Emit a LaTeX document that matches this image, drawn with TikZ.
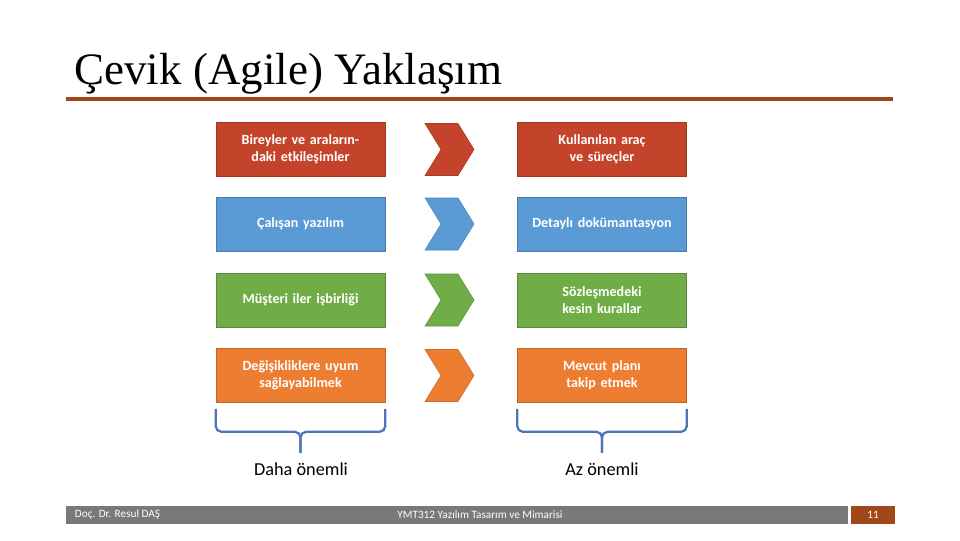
\documentclass[tikz,border=0pt]{standalone}
\usepackage{fontspec}
\setmainfont{Carlito}
\newfontfamily\titlefont{Liberation Serif}
\usetikzlibrary{positioning,calc}
\definecolor{agred}{HTML}{C4432B}
\definecolor{agblue}{HTML}{5B9BD5}
\definecolor{aggreen}{HTML}{70AD47}
\definecolor{agorange}{HTML}{ED7D31}
\definecolor{agrule}{HTML}{A0481A}
\definecolor{agbrace}{HTML}{4F74B8}
\tikzset{
    valuebox/.style={
        rectangle,
        fill=#1,
        draw=#1!80!black,
        minimum width=169*0.025cm,
        minimum height=54*0.025cm,
        text width=150*0.025cm,
        align=center,
        text=white,
        font=\fontsize{10}{12}\selectfont\bfseries
    },
    chevron/.style={fill=#1, draw=#1!85!black},
    bracket/.style={draw=agbrace, line width=1.6pt, rounded corners=4pt}
}
\begin{document}
\begin{tikzpicture}[x=0.025cm, y=-0.025cm]
    \useasboundingbox (0,0) rectangle (960,540);
    % title
    \node[anchor=base west, inner sep=0, font=\titlefont\fontsize{32}{36}\selectfont] (title) at (74,84) {Çevik (Agile) Yaklaşım};
    \draw[agrule, line width=2.2pt] (66,99) -- (893,99);
    % rows
    \foreach \i/\y/\c/\l/\r in {
        1/149.5/agred/{Bireyler ve aralarındaki etkileşimler}/{Kullanılan araç ve süreçler},
        2/224/agblue/{Çalışan yazılım}/{Detaylı dokümantasyon},
        3/300/aggreen/{Müşteri iler işbirliği}/{Sözleşmedeki kesin kurallar},
        4/375.5/agorange/{Değişikliklere uyum sağlayabilmek}/{Mevcut planı takip etmek}}{
        \node[valuebox=\c] (L\i) at (300.5,\y) {\l};
        \node[valuebox=\c] (R\i) at (602,\y) {\r};
        \path[chevron=\c] (425,\y-26) -- (458,\y-26) -- (474,\y) -- (458,\y+26)
            -- (425,\y+26) -- (441,\y) -- cycle;
    }
    % brackets
    \node[font=\fontsize{13}{15}\selectfont] (more) at (301,469) {Daha önemli};
    \node[font=\fontsize{13}{15}\selectfont] (less) at (602,469) {Az önemli};
    \foreach \b/\t in {L4/more, R4/less}{
        \draw[bracket] ($(\b.south west)+(0,6)$) -- ($(\b.south west)+(0,29)$)
            -- ($(\b.south)+(0,29)$) -- ($(\b.south)+(0,50)$);
        \draw[bracket] ($(\b.south east)+(0,6)$) -- ($(\b.south east)+(0,29)$)
            -- ($(\b.south)+(0,29)$) -- ($(\b.south)+(0,50)$);
    }
    % footer
    \fill[gray!95!black] (66,506) rectangle (848,524);
    \fill[agrule] (851,506) rectangle (895,524);
    \node[anchor=west, text=white, font=\fontsize{8}{9}\selectfont] (author) at (70,515) {Doç. Dr. Resul DAŞ};
    \node[text=white, font=\fontsize{8}{9}\selectfont] (course) at (480,515) {YMT312 Yazılım Tasarım ve Mimarisi};
    \node[text=white, font=\fontsize{8}{9}\selectfont] (page) at (873,515) {11};
\end{tikzpicture}
\end{document}
